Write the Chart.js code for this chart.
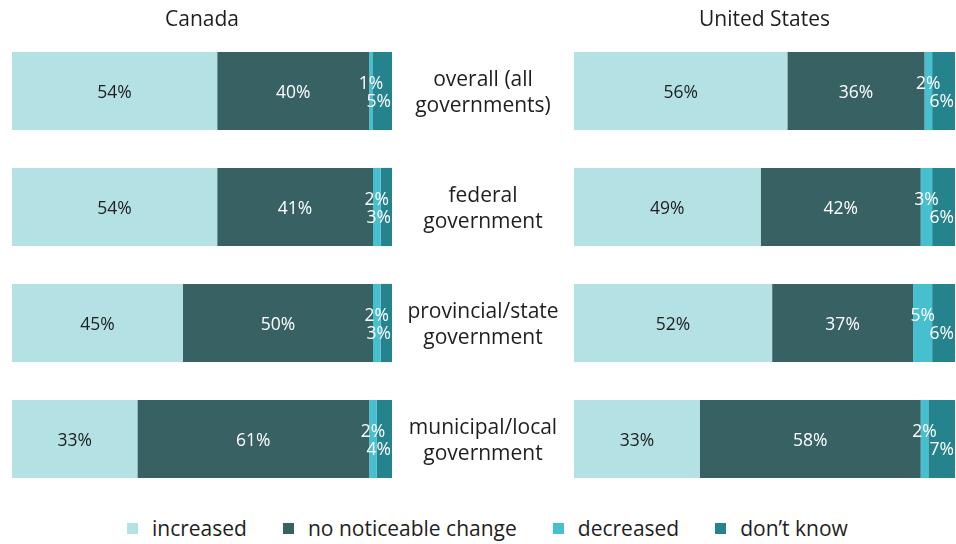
<!DOCTYPE html>
<html><head><meta charset="utf-8">
<script src="https://cdn.jsdelivr.net/npm/chart.js@4/dist/chart.umd.min.js"></script>
<style>
html,body{margin:0;padding:0;background:#fff;}
body{width:956px;height:544px;position:relative;overflow:hidden;font-family:"Open Sans",Lato,sans-serif;}
#wca{position:absolute;left:0;top:0;width:574px;height:500px;}
#wus{position:absolute;left:564px;top:0;width:392px;height:500px;}
#legend{position:absolute;left:127px;top:514px;height:28px;display:flex;align-items:center;font-size:21px;color:#1e1e1e;white-space:nowrap;}
#legend .it{display:flex;align-items:center;margin-right:36px;}
#legend .sw{width:11px;height:11px;margin-right:14px;}
</style></head><body>
<div id="wca"><canvas id="ca"></canvas></div>
<div id="wus"><canvas id="us"></canvas></div>
<div id="legend"></div>
<script>
const categories = [["overall (all","governments)"],["federal","government"],["provincial/state","government"],["municipal/local","government"]];
const seriesNames = ["increased","no noticeable change","decreased","don\u2019t know"];
const seriesColors = ["#b4e1e4","#386163","#46bfcf","#25838e"];
const canadaIncreased = [54,54,45,33];
const canadaNoChange = [40,41,50,61];
const canadaDecreased = [1,2,2,2];
const canadaDontKnow = [5,3,3,4];
const usIncreased = [56,49,52,33];
const usNoChange = [36,42,37,58];
const usDecreased = [2,3,5,2];
const usDontKnow = [6,6,6,7];

const FONT = '"Open Sans", Lato, sans-serif';

const labelPlugin = {
  id:'segLabels',
  afterDatasetsDraw(chart){
    const ctx = chart.ctx;
    ctx.save();
    ctx.font = '17.5px ' + FONT;
    ctx.textBaseline = 'middle';
    chart.data.datasets.forEach((ds, di) => {
      const meta = chart.getDatasetMeta(di);
      meta.data.forEach((el, i) => {
        const v = ds.data[i];
        const txt = v + '%';
        const x0 = Math.min(el.x, el.base), x1 = Math.max(el.x, el.base);
        const y = el.y;
        const w = ctx.measureText(txt).width;
        ctx.fillStyle = di === 0 ? '#1e1e1e' : '#ffffff';
        if (di < 2) {
          ctx.textAlign = 'center';
          ctx.fillText(txt, (x0 + x1) / 2, y + 2);
        } else if (di === 2) {
          ctx.textAlign = 'center';
          ctx.fillText(txt, (x0 + x1) / 2, y - 7);
        } else {
          ctx.textAlign = 'right';
          let cx = (x0 + x1) / 2 + w / 2;
          cx = Math.min(cx, x1 - 1);
          ctx.fillText(txt, cx, y + 11);
        }
      });
    });
    ctx.restore();
  }
};

const catPlugin = {
  id:'catLabels',
  afterDraw(chart){
    const ys = chart.scales.y;
    const ctx = chart.ctx;
    ctx.save();
    ctx.font = '21px ' + FONT;
    ctx.fillStyle = '#1e1e1e';
    ctx.textAlign = 'center';
    ctx.textBaseline = 'middle';
    const cx = (ys.left + ys.right) / 2;
    categories.forEach((lines, i) => {
      const y = ys.getPixelForValue(i);
      const lh = 26;
      lines.forEach((ln, k) => {
        ctx.fillText(ln, cx, y + 2 + (k - (lines.length - 1) / 2) * lh);
      });
    });
    ctx.restore();
  }
};

function makeChart(id, title, vals, isCanada){
  const datasets = vals.map((d, k) => ({
    label: seriesNames[k], data: d, backgroundColor: seriesColors[k],
    borderWidth: 0, barPercentage: 0.674, categoryPercentage: 1.0
  }));
  return new Chart(document.getElementById(id), {
    type:'bar',
    data:{labels: categories.map(c => c.join(' ')), datasets},
    options:{
      indexAxis:'y', responsive:true, maintainAspectRatio:false, animation:false,
      layout:{padding:{left: isCanada ? 12 : 10, right: isCanada ? 0 : 1, top:0, bottom:3}},
      scales:{
        x:{stacked:true, min:0, max:100, display:false},
        y:{stacked:true, position: isCanada ? 'right' : 'left', display: isCanada,
           grid:{display:false, drawTicks:false}, border:{display:false},
           ticks:{display:false},
           afterFit(s){ if (isCanada) s.width = 182; }}
      },
      plugins:{
        legend:{display:false}, tooltip:{enabled:false},
        title:{display:true, text:title, fullSize:false, color:'#1e1e1e',
               font:{family:FONT, size:21, weight:'normal'}, padding:{top:7.8, bottom:0}}
      }
    },
    plugins: isCanada ? [labelPlugin, catPlugin] : [labelPlugin]
  });
}

makeChart('ca', 'Canada', [canadaIncreased, canadaNoChange, canadaDecreased, canadaDontKnow], true);
makeChart('us', 'United States', [usIncreased, usNoChange, usDecreased, usDontKnow], false);

const lg = document.getElementById('legend');
seriesNames.forEach((n, k) => {
  const it = document.createElement('div'); it.className = 'it';
  const sw = document.createElement('div'); sw.className = 'sw'; sw.style.background = seriesColors[k];
  const tx = document.createElement('span'); tx.textContent = n;
  it.appendChild(sw); it.appendChild(tx); lg.appendChild(it);
});
</script>
</body></html>
